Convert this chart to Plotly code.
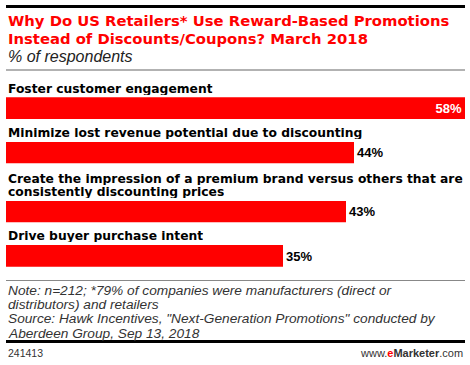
import plotly.graph_objects as go

W, H = 470, 365

title_lines = ["Why Do US Retailers* Use Reward-Based Promotions",
               "Instead of Discounts/Coupons? March 2018"]
subtitle = "% of respondents"
categories = ["Foster customer engagement",
              "Minimize lost revenue potential due to discounting",
              "Create the impression of a premium brand versus others that are<br>consistently discounting prices",
              "Drive buyer purchase intent"]
values = [58, 44, 43, 35]
note_lines = ["Note: n=212; *79% of companies were manufacturers (direct or",
              "distributors) and retailers",
              "Source: Hawk Incentives, \"Next-Generation Promotions\" conducted by",
              "Aberdeen Group, Sep 13, 2018"]
chart_id = "241413"

FONT = "Liberation Sans, Arial, sans-serif"
BOLD = "DejaVu Sans, Liberation Sans, sans-serif"
RED = "#ff0000"

def py(px):
    return 1 - px / H

# bar vertical extents in pixels (top, bottom)
bar_px = [(97.3, 119.0), (141.7, 163.3), (200.7, 222.3), (245.0, 266.7)]
# label line centres in pixels for each category
label_px = [[89], [133], [178.5, 192], [236.5]]

fig = go.Figure()
annotations = []

for i, (cat, v) in enumerate(zip(categories, values)):
    yname = "y" if i == 0 else f"y{i+1}"
    inside = i == 0
    fig.add_trace(go.Bar(
        x=[v], y=[cat], orientation="h", yaxis=yname, xaxis="x",
        width=1, marker=dict(color=RED, line=dict(width=0)),
        texttemplate="%{x}%", textposition="inside" if inside else "outside",
        insidetextanchor="end", constraintext="none",
        textfont=dict(family=FONT, size=13, color="white" if inside else "#000",
                      weight="bold"),
        cliponaxis=False, hoverinfo="skip", showlegend=False))
    for line, ypx in zip(cat.split("<br>"), label_px[i]):
        annotations.append(dict(text=f"<b>{line}</b>", x=6 / W, y=py(ypx), height=12,
                                xref="paper", yref="paper", xanchor="left", yanchor="middle",
                                showarrow=False, font=dict(family=BOLD, size=12.3, color="#000")))

layout_axes = {}
for i, (t, b) in enumerate(bar_px):
    key = "yaxis" if i == 0 else f"yaxis{i+1}"
    layout_axes[key] = dict(domain=[py(b), py(t)], range=[-0.5, 0.5], visible=False,
                            anchor="x", type="category", fixedrange=True)

def txt(text, x, ypx, size, color="#000", xanchor="left", italic=False, family=FONT):
    annotations.append(dict(text=text, x=x, y=py(ypx), xref="paper", yref="paper",
                            xanchor=xanchor, yanchor="middle", showarrow=False,
                            font=dict(family=family, size=size, color=color,
                                      style="italic" if italic else "normal")))

txt(f"<b>{title_lines[0]}</b>", 6 / W, 21, 14.8, RED, family=BOLD)
txt(f"<b>{title_lines[1]}</b>", 6 / W, 38, 14.8, RED, family=BOLD)
txt(subtitle, 6 / W, 56, 16, "#222", italic=True)
for line, ypx in zip(note_lines, [290, 304.5, 318.7, 333]):
    txt(line, 6 / W, ypx, 13.7, "#333", italic=True)
txt(chart_id, 6 / W, 353, 10.5, "#333")
txt("www.<b><span style='color:#ff0000'>e</span>Marketer</b>.com", 465 / W, 353, 11,
    "#333", xanchor="right")

shapes = [
    dict(type="line", xref="paper", yref="paper", x0=6 / W, x1=465 / W, y0=py(6.5), y1=py(6.5),
         line=dict(color="#000", width=3)),
    dict(type="line", xref="paper", yref="paper", x0=6 / W, x1=465 / W, y0=py(70), y1=py(70),
         line=dict(color="#999", width=1.5)),
    dict(type="line", xref="paper", yref="paper", x0=6 / W, x1=465 / W, y0=py(280.5), y1=py(280.5),
         line=dict(color="#888", width=1)),
    dict(type="line", xref="paper", yref="paper", x0=6 / W, x1=465 / W, y0=py(341.5), y1=py(341.5),
         line=dict(color="#000", width=3)),
]

fig.update_layout(
    width=W, height=H, margin=dict(l=0, r=0, t=0, b=0),
    paper_bgcolor="white", plot_bgcolor="white",
    xaxis=dict(domain=[6 / W, 465 / W], range=[0, 58], visible=False, fixedrange=True,
               anchor="y4"),
    annotations=annotations, shapes=shapes, bargap=0,
    font=dict(family=FONT),
    **layout_axes)

fig.write_html("out.html", config={"displayModeBar": False},
               post_script="document.body.style.margin='0';")
